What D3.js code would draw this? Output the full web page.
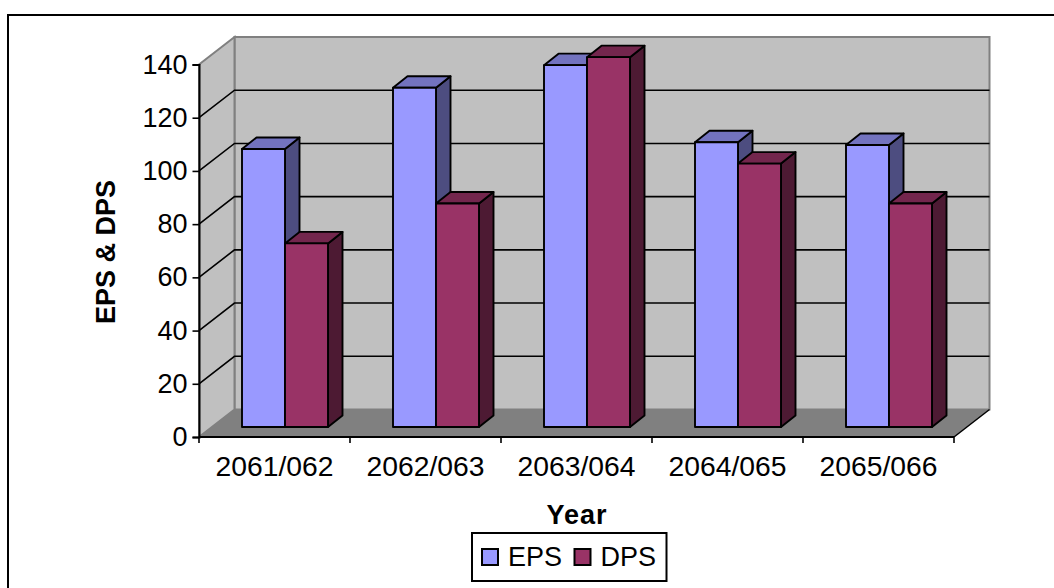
<!DOCTYPE html>
<html>
<head>
<meta charset="utf-8">
<script src="https://cdn.jsdelivr.net/npm/d3@7/dist/d3.min.js"></script>
<style>
html,body{margin:0;padding:0;background:#fff}
svg{display:block}
text{font-family:"Liberation Sans",Arial,sans-serif;fill:#000}
</style>
</head>
<body>
<svg id="chart" width="1054" height="588"></svg>
<script>
// Chart content
const categories = ["2061/062","2062/063","2063/064","2064/065","2065/066"];
const seriesNames = ["EPS","DPS"];
const eps = [104.5,127.5,136,107,106];
const dps = [69,84,139,99,84];
const yTicks = [0,20,40,60,80,100,120,140];

const frontColors = {EPS:"#9999ff",DPS:"#993366"};
const topColors = {EPS:"#7373bf",DPS:"#73264d"};
const sideColors = {EPS:"#4d4d80",DPS:"#4d1a33"};

const svg = d3.select("#chart");

// Box geometry: front plane of the plot, the depth of the back wall and of each bar
const left = 199, right = 954, floorY = 437, topY = 64.5;
const depthX = 35.5, depthY = -27.5;
const barDepthX = 14.5, barDepthY = -11.5;
const barFloorY = 427;

const x = d3.scaleBand().domain(categories).range([left,right]);
const xSeries = d3.scaleBand().domain(seriesNames).range([43,129]);
const y = d3.scaleLinear().domain([0,140]).range([floorY,topY]);
// Bars stand further back in the box, so they share the axis scale shifted upward
const barY = d3.scaleLinear().domain([0,140]).range([barFloorY,barFloorY-(floorY-topY)]);

const poly = pts => pts.map(p=>p.join(",")).join(" ");

// Outer frame: left edge and top edge
svg.append("path")
  .attr("d",`M8,588V15H1054`)
  .attr("fill","none").attr("stroke","#000").attr("stroke-width",2);

// Back wall, side wall and floor
const walls = svg.append("g").attr("stroke","#808080").attr("stroke-width",2);
walls.append("polygon")
  .attr("points",poly([[left+depthX,topY+depthY],[right+depthX,topY+depthY],[right+depthX,floorY+depthY],[left+depthX,floorY+depthY]]))
  .attr("fill","#c0c0c0");
walls.append("polygon")
  .attr("points",poly([[left,topY],[left+depthX,topY+depthY],[left+depthX,floorY+depthY],[left,floorY]]))
  .attr("fill","#c0c0c0");
svg.append("polygon")
  .attr("points",poly([[left,floorY],[left+depthX,floorY+depthY],[right+depthX,floorY+depthY],[right,floorY]]))
  .attr("fill","#808080");
svg.append("line")
  .attr("x1",right).attr("y1",floorY).attr("x2",right+depthX).attr("y2",floorY+depthY)
  .attr("stroke","#000").attr("stroke-width",1.5);

// Gridlines across the side wall and back wall
const grid = svg.append("g").attr("fill","none").attr("stroke","#000").attr("stroke-width",1.6);
yTicks.filter(t=>t>0 && t<140).forEach(t=>{
  grid.append("polyline").attr("points",poly([
    [left,y(t)],[left+depthX,y(t)+depthY],[right+depthX,y(t)+depthY]
  ]));
});

// Bars, one group per category, painted left to right
const marks = svg.append("g").attr("stroke","#000").attr("stroke-width",1.9).attr("stroke-linejoin","round");
categories.forEach((c,i)=>{
  seriesNames.forEach(s=>{
    const v = (s==="EPS"?eps:dps)[i];
    const x0 = x(c)+xSeries(s), x1 = x0+xSeries.bandwidth();
    const yt = barY(v), yb = barY(0);
    const g = marks.append("g");
    g.append("polygon").attr("fill",sideColors[s]).attr("points",poly([
      [x1,yt],[x1+barDepthX,yt+barDepthY],[x1+barDepthX,yb+barDepthY],[x1,yb]]));
    g.append("polygon").attr("fill",topColors[s]).attr("points",poly([
      [x0,yt],[x0+barDepthX,yt+barDepthY],[x1+barDepthX,yt+barDepthY],[x1,yt]]));
    g.append("rect").attr("x",x0).attr("y",yt).attr("width",x1-x0).attr("height",yb-yt).attr("fill",frontColors[s]);
  });
});

// Value axis
const yAxis = d3.axisLeft(y).tickValues(yTicks).tickSize(6.5).tickPadding(5);
const yG = svg.append("g").attr("transform",`translate(${left},0)`).call(yAxis);
yG.select(".domain").attr("stroke","#000").attr("stroke-width",2);
yG.selectAll(".tick line").attr("stroke","#000").attr("stroke-width",1.6);
yG.selectAll("text").attr("font-size",27).style("font-family",'"Liberation Sans",Arial,sans-serif');

// Category axis: ticks sit on band edges, labels at band centres
const tickEdges = categories.map(c=>x(c)).concat([right]);
const xLine = svg.append("g").attr("stroke","#000");
xLine.append("line").attr("x1",left).attr("x2",right).attr("y1",floorY).attr("y2",floorY).attr("stroke-width",2);
xLine.selectAll("line.t").data(tickEdges).join("line").attr("class","t")
  .attr("x1",d=>d).attr("x2",d=>d).attr("y1",floorY).attr("y2",floorY+6).attr("stroke-width",1.6);
svg.append("g").selectAll("text").data(categories).join("text")
  .attr("x",d=>x(d)+x.bandwidth()/2).attr("y",476)
  .attr("text-anchor","middle").attr("font-size",27)
  .attr("textLength",118).attr("lengthAdjust","spacingAndGlyphs")
  .text(d=>d);

// Axis titles
svg.append("text").attr("transform","translate(115,252) rotate(-90)")
  .attr("text-anchor","middle").attr("font-size",27).attr("font-weight","bold").text("EPS & DPS");
svg.append("text").attr("x",577).attr("y",524)
  .attr("text-anchor","middle").attr("font-size",27).attr("font-weight","bold").attr("letter-spacing",1).text("Year");

// Legend
svg.append("rect").attr("x",472).attr("y",533).attr("width",194.5).attr("height",48)
  .attr("fill","#fff").attr("stroke","#000").attr("stroke-width",2);
const legendX = d3.scalePoint().domain(seriesNames).range([482,574.5]);
const legend = svg.append("g").selectAll("g").data(seriesNames).join("g")
  .attr("transform",d=>`translate(${legendX(d)},549)`);
legend.append("rect").attr("width",16).attr("height",16)
  .attr("fill",d=>frontColors[d]).attr("stroke","#000").attr("stroke-width",2);
legend.append("text").attr("x",26).attr("y",16.5).attr("font-size",27).text(d=>d);
</script>
</body>
</html>
